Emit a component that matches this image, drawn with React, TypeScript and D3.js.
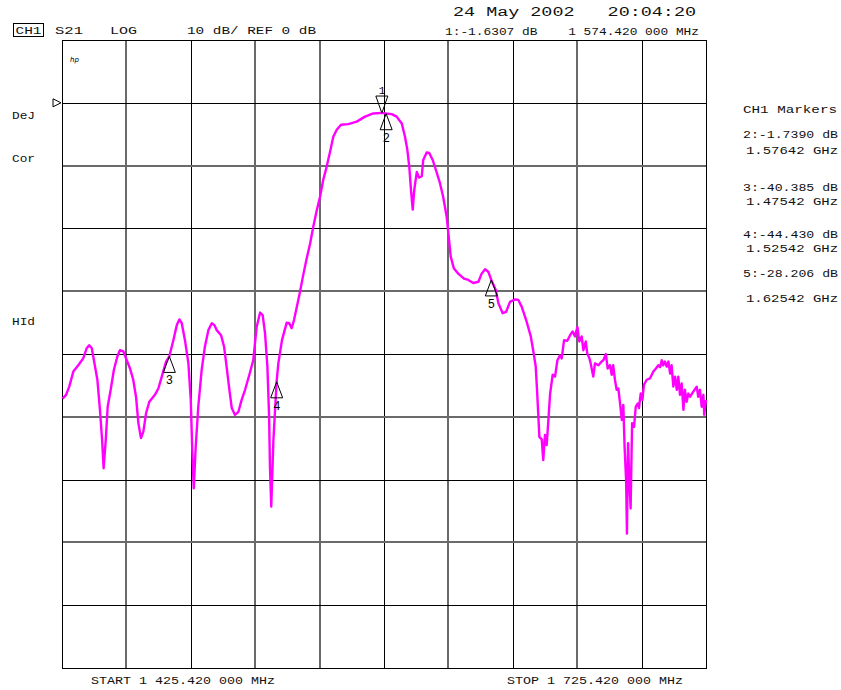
import React from 'react';
import * as d3 from 'd3';

// sweep: 1425.42 .. 1725.42 MHz, 10 dB/div, ref 0 dB one division below top
const startMHz = 1425.42;
const stopMHz = 1725.42;
const topDb = 10;
const bottomDb = -90;
const xDivs = d3.range(0, 11);
const yDivs = d3.range(0, 11);

// trace (MHz, dB)
const freqMHz = [
  1425.7, 1427.3, 1428.8, 1430.7, 1433.0, 1435.3, 1436.9, 1438.1, 1439.3, 1440.8,
  1441.9, 1443.1, 1444.1, 1444.8, 1445.8, 1446.7, 1448.1, 1449.6, 1451.2, 1452.4,
  1454.0, 1455.6, 1457.1, 1458.6, 1459.9, 1461.0, 1462.2, 1463.3, 1464.6, 1466.1,
  1468.7, 1470.3, 1471.9, 1473.9, 1475.4, 1477.3, 1478.9, 1480.1, 1481.2, 1482.7,
  1484.3, 1485.4, 1486.1, 1486.8, 1487.7, 1488.9, 1490.5, 1492.0, 1493.6, 1495.2,
  1496.4, 1497.5, 1499.5, 1500.9, 1502.1, 1503.4, 1504.5, 1506.0, 1507.6, 1509.1,
  1510.7, 1512.7, 1514.5, 1516.1, 1517.7, 1518.9, 1520.0, 1521.1, 1521.9, 1522.3,
  1522.9, 1523.9, 1525.4, 1526.2, 1527.9, 1530.1, 1531.3, 1532.4, 1533.5, 1534.8,
  1536.3, 1537.8, 1539.4, 1541.0, 1542.5, 1544.1, 1545.6, 1547.1, 1548.7, 1550.3,
  1551.8, 1553.4, 1555.4, 1558.8, 1562.7, 1566.6, 1570.4, 1574.4, 1576.4, 1579.0,
  1581.3, 1583.7, 1585.2, 1586.3, 1587.2, 1588.0, 1588.8, 1589.5, 1590.7, 1591.7,
  1593.0, 1593.7, 1595.3, 1596.5, 1598.1, 1599.6, 1601.5, 1603.0, 1604.6, 1605.7,
  1606.5, 1608.0, 1610.0, 1612.7, 1614.7, 1617.0, 1619.4, 1620.9, 1622.5, 1624.0,
  1625.4, 1627.5, 1628.7, 1630.7, 1632.3, 1634.1, 1636.5, 1638.0, 1639.6, 1641.9,
  1643.8, 1645.0, 1646.1, 1646.8, 1647.8, 1648.9, 1649.6, 1650.4, 1651.2, 1652.0,
  1652.8, 1654.0, 1655.1, 1656.2, 1657.4, 1658.2, 1659.3, 1660.8, 1662.1, 1663.3,
  1664.4, 1665.5, 1666.4, 1667.5, 1668.3, 1669.4, 1670.1, 1671.1, 1671.7, 1672.9,
  1673.7, 1675.3, 1676.8, 1677.6, 1678.8, 1679.6, 1680.7, 1681.5, 1682.2, 1683.0,
  1683.8, 1684.6, 1685.4, 1686.2, 1686.9, 1687.5, 1688.2, 1688.6, 1689.1, 1689.7,
  1690.3, 1691.0, 1691.9, 1692.7, 1693.6, 1694.2, 1695.0, 1695.8, 1696.5, 1697.8,
  1699.3, 1700.9, 1702.1, 1703.2, 1704.0, 1704.8, 1705.5, 1706.3, 1707.1, 1707.9,
  1708.7, 1709.4, 1710.2, 1711.0, 1711.8, 1712.5, 1713.3, 1714.1, 1714.9, 1715.6,
  1716.4, 1717.2, 1718.0, 1719.5, 1721.1, 1721.8, 1722.6, 1723.4, 1724.2, 1724.6,
  1725.4,
];

const s21Db = [
  -47.1, -46.5, -45.2, -42.8, -41.8, -40.7, -39.1, -38.6, -39.1, -42.0,
  -44.1, -48.9, -53.7, -58.2, -53.7, -48.4, -45.7, -42.5, -40.4, -39.4,
  -39.6, -41.0, -42.3, -44.1, -46.8, -51.0, -53.4, -52.4, -49.4, -47.6,
  -46.5, -45.5, -43.6, -41.2, -40.4, -37.8, -35.4, -34.5, -35.1, -37.8,
  -41.5, -47.3, -55.3, -61.4, -54.8, -48.4, -42.5, -38.8, -36.2, -35.1,
  -35.4, -36.2, -37.0, -38.8, -42.0, -45.7, -48.6, -49.7, -49.2, -47.3,
  -45.7, -43.3, -41.0, -35.7, -33.4, -33.8, -36.7, -42.0, -50.0, -58.0,
  -64.3, -53.7, -44.4, -41.5, -37.8, -35.0, -35.1, -35.9, -34.6, -32.5,
  -30.1, -27.4, -24.8, -22.4, -19.7, -17.1, -15.0, -12.3, -10.2, -7.8,
  -5.4, -4.3, -3.5, -3.4, -3.0, -2.2, -1.7, -1.6, -1.7, -1.8,
  -2.2, -3.3, -5.4, -7.5, -10.2, -13.9, -17.0, -13.9, -11.0, -11.9,
  -11.7, -9.1, -7.9, -8.0, -9.1, -10.7, -12.8, -15.0, -18.1, -21.8,
  -24.5, -26.4, -27.2, -28.0, -28.2, -28.7, -28.5, -27.2, -26.5, -26.9,
  -28.2, -29.8, -31.9, -33.5, -33.3, -31.7, -31.3, -31.4, -32.5, -34.9,
  -37.2, -39.6, -42.0, -46.3, -53.2, -53.6, -56.9, -52.9, -54.5, -50.5,
  -46.3, -43.3, -43.6, -41.0, -40.2, -40.7, -37.8, -37.9, -37.0, -36.4,
  -37.2, -35.7, -38.0, -37.2, -39.4, -38.0, -39.9, -40.7, -41.5, -43.6,
  -41.5, -41.8, -41.2, -41.0, -40.0, -42.3, -41.8, -43.3, -41.8, -44.1,
  -45.7, -45.5, -47.9, -50.5, -48.1, -54.8, -60.1, -68.6, -54.2, -60.1,
  -64.6, -51.0, -51.6, -48.4, -47.9, -48.6, -46.3, -47.3, -44.9, -44.1,
  -43.9, -42.8, -42.3, -41.8, -42.1, -41.0, -41.8, -41.2, -42.0, -41.2,
  -43.1, -41.8, -45.2, -43.6, -45.7, -43.6, -46.5, -44.7, -48.9, -45.7,
  -47.6, -46.3, -46.8, -46.0, -45.2, -46.8, -45.7, -48.4, -46.5, -49.7,
  -47.3,
];

// markers
const markerIds = ['1', '2', '3', '4', '5'];
const markerMHz = [1574.42, 1576.42, 1475.42, 1525.42, 1625.42];
const markerDb = [-1.6307, -1.739, -40.385, -44.43, -28.206];

const markerTable = [
  ['2:-1.7390 dB', '1.57642 GHz'],
  ['3:-40.385 dB', '1.47542 GHz'],
  ['4:-44.430 dB', '1.52542 GHz'],
  ['5:-28.206 dB', '1.62542 GHz'],
];

const headerDate = '24 May 2002   20:04:20';
const headerMarker = '1:-1.6307 dB    1 574.420 000 MHz';
const startLabel = 'START 1 425.420 000 MHz';
const stopLabel = 'STOP 1 725.420 000 MHz';

const W = 841;
const H = 690;
const plot = { left: 62, right: 706, top: 40, bottom: 668 };
const font = '"Liberation Mono", "DejaVu Sans Mono", monospace';
const trace = '#ff00ff';

// grid lines that the screen shows grey (rest black)
const greyX = [1, 3, 4, 6, 8];
const greyY = [2, 4, 6, 8];

export default function App() {
  const x = d3.scaleLinear().domain([startMHz, stopMHz]).range([plot.left, plot.right]);
  const y = d3.scaleLinear().domain([topDb, bottomDb]).range([plot.top, plot.bottom]);
  const xDiv = d3.scaleLinear().domain([0, 10]).range([plot.left, plot.right]);
  const yDiv = d3.scaleLinear().domain([0, 10]).range([plot.top, plot.bottom]);

  const pts = freqMHz.map((f, i) => [f, s21Db[i]] as [number, number]);
  const line = d3
    .line<[number, number]>()
    .x(d => x(d[0]))
    .y(d => y(d[1]));

  const txt = (s: string, tx: number, ty: number, len: number, size = 11.5) => (
    <text
      key={s + tx + ty}
      x={tx}
      y={ty}
      fontSize={size}
      fontFamily={font}
      textLength={len}
      lengthAdjust="spacingAndGlyphs"
      fill="#111"
      style={{ whiteSpace: 'pre' }}
    >
      {s}
    </text>
  );

  return (
    <svg
      width={W}
      height={H}
      style={{ position: 'absolute', left: 0, top: 0, background: '#fff' }}
    >
      <rect x={0} y={0} width={W} height={H} fill="#fff" />

      {/* grid */}
      {xDivs.slice(1, 10).map(i => {
        const g = greyX.includes(i);
        const px = Math.round(xDiv(i)) + (g ? 0 : 0.5);
        return (
          <line
            key={'gx' + i}
            x1={px}
            x2={px}
            y1={plot.top}
            y2={plot.bottom}
            stroke={g ? '#6a6a6a' : '#000'}
            strokeWidth={g ? 2 : 1}
          />
        );
      })}
      {yDivs.slice(1, 10).map(i => {
        const g = greyY.includes(i);
        const py = Math.round(yDiv(i)) + (g ? 0 : 0.5);
        return (
          <line
            key={'gy' + i}
            x1={plot.left}
            x2={plot.right}
            y1={py}
            y2={py}
            stroke={g ? '#6a6a6a' : '#000'}
            strokeWidth={g ? 2 : 1}
          />
        );
      })}
      <rect
        x={plot.left + 0.5}
        y={plot.top + 0.5}
        width={plot.right - plot.left}
        height={plot.bottom - plot.top}
        fill="none"
        stroke="#000"
        strokeWidth={1}
      />

      {/* reference pointer */}
      <path
        d={`M${plot.left - 9},${y(0) - 4} L${plot.left - 1},${y(0)} L${plot.left - 9},${y(0) + 4} Z`}
        fill="none"
        stroke="#000"
        strokeWidth={1}
      />

      {/* trace */}
      <path d={line(pts) || ''} fill="none" stroke={trace} strokeWidth={2.4} strokeLinejoin="round" />

      {/* markers */}
      {markerIds.map((id, i) => {
        const mx = x(markerMHz[i]);
        const my = y(markerDb[i]);
        if (id === '1') {
          return (
            <g key={'m' + id}>
              <path
                d={`M${mx},${my} L${mx - 6},${my - 17} L${mx + 6},${my - 17} Z`}
                fill="none"
                stroke="#000"
                strokeWidth={1}
              />
              <text x={mx - 3} y={my - 19} fontSize={11} fontFamily={font}>
                {id}
              </text>
            </g>
          );
        }
        return (
          <g key={'m' + id}>
            <path
              d={`M${mx},${my} L${mx - 6},${my + 16} L${mx + 6},${my + 16} Z`}
              fill="none"
              stroke="#000"
              strokeWidth={1}
            />
            <text x={mx - 3.5} y={my + 28} fontSize={12} fontFamily={font}>
              {id}
            </text>
          </g>
        );
      })}

      {/* header */}
      <rect x={13.5} y={23.5} width={30} height={13} fill="none" stroke="#000" strokeWidth={1} />
      {txt('CH1', 15.5, 34, 26)}
      {txt('S21', 55, 34, 28)}
      {txt('LOG', 110, 34, 27)}
      {txt('10 dB/ REF 0 dB', 187, 34, 129)}
      {txt(headerDate, 453, 16, 243, 12)}
      {txt(headerMarker, 445, 35, 254)}

      <text x={70} y={62} fontSize={7} fontStyle="italic" fontFamily="DejaVu Sans, sans-serif">
        hp
      </text>

      {/* left annotations */}
      {txt('DeJ', 12, 119, 23)}
      {txt('Cor', 12, 162, 23)}
      {txt('HId', 12, 325, 23)}

      {/* marker table */}
      {txt('CH1 Markers', 743, 113, 94)}
      {markerTable.map((r, i) => {
        const rows = [
          [138, 154],
          [191, 205],
          [238, 252],
          [277, 302],
        ][i];
        return (
          <g key={'mt' + i}>
            {txt(r[0], 743, rows[0], 95)}
            {txt(r[1], 746, rows[1], 92)}
          </g>
        );
      })}

      {/* sweep limits */}
      {txt(startLabel, 91, 684, 184)}
      {txt(stopLabel, 507, 684, 176)}
    </svg>
  );
}
